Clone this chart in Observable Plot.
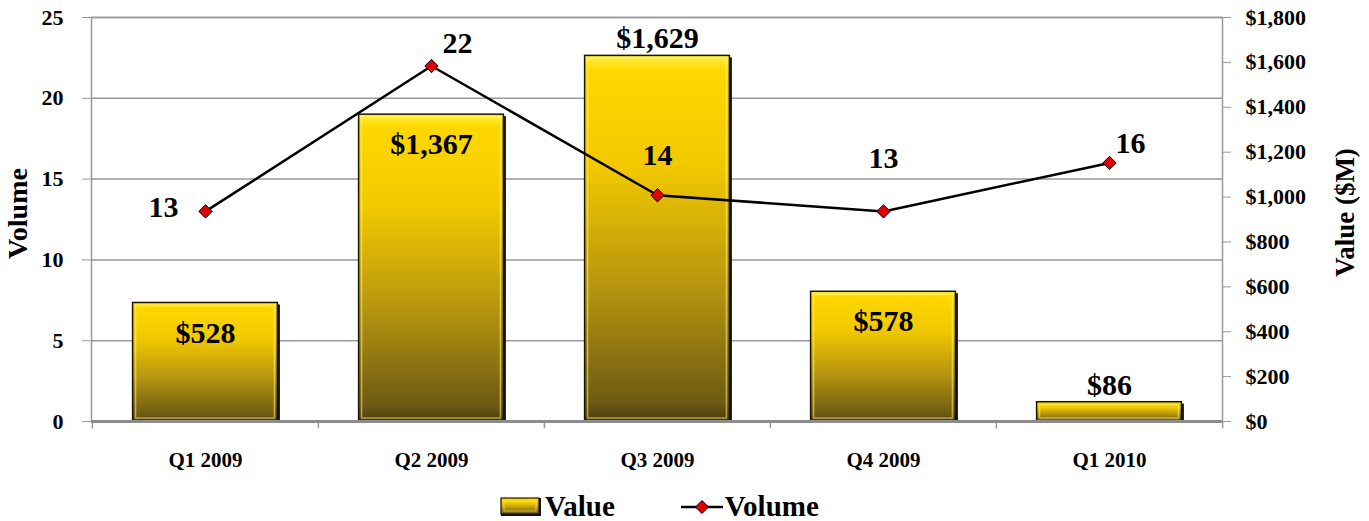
<!DOCTYPE html>
<html>
<head>
<meta charset="utf-8">
<script src="https://cdn.jsdelivr.net/npm/d3@7"></script>
<script src="https://cdn.jsdelivr.net/npm/@observablehq/plot@0.6"></script>
<style>
  html, body { margin: 0; padding: 0; background: #fff; }
  body { width: 1369px; height: 521px; overflow: hidden; font-family: "Liberation Serif", serif; font-weight: bold; }
  #legend { display: flex; align-items: center; height: 29px; padding-left: 500px; font-size: 29px; color: #000; }
  #legend .item { display: flex; align-items: center; }
  #legend svg { display: block; }
</style>
</head>
<body>
<div id="chart"></div>
<div id="legend"></div>
<script>
// ---- data ----
const quarters = ["Q1 2009", "Q2 2009", "Q3 2009", "Q4 2009", "Q1 2010"];
const values = [528, 1367, 1629, 578, 86];          // Value ($M), right axis
const volumes = [13, 22, 14, 13, 16];               // Volume, left axis
const volumeTicks = [0, 5, 10, 15, 20, 25];
const valueTicks = [0, 200, 400, 600, 800, 1000, 1200, 1400, 1600, 1800];

// ---- layout config (not data) ----
const valueLabelInside = [true, true, false, true, false];
const volLabelDx = [-42, 26, 0, 0, 21];
const volLabelDy = [-4, -23, -40, -53, -20];

const W = 1369, H = 492, mL = 91, mR = 147, mT = 17, mB = 71;
const volMax = 25, valMax = 1800;
const toVol = v => v * volMax / valMax;
const bw = (W - mL - mR) / quarters.length;
const barInset = (bw - 145) / 2;

const rows = quarters.map((q, i) => ({
  q, value: values[i], vv: toVol(values[i]), volume: volumes[i],
  inside: valueLabelInside[i], dx: volLabelDx[i], dy: volLabelDy[i]
}));
const fmt = d3.format(",");

const plot = Plot.plot({
  width: W, height: H,
  marginLeft: mL, marginRight: mR, marginTop: mT, marginBottom: mB,
  style: { fontFamily: "Liberation Serif, serif", fontWeight: "bold", color: "#000", background: "#fff" },
  x: { type: "band", domain: quarters, padding: 0 },
  y: { domain: [0, volMax] },
  marks: [
    Plot.gridY(volumeTicks.filter(d => d > 0), { stroke: "#999", strokeOpacity: 1, strokeWidth: 1.5 }),
    Plot.frame({ stroke: "#999", strokeWidth: 1.5 }),
    // category boundary ticks under the x axis
    Plot.ruleX(rows, { x: "q", dx: -bw / 2, y1: 0, y2: -0.45, stroke: "#999", strokeWidth: 1.5 }),
    Plot.ruleX(rows.slice(-1), { x: "q", dx: bw / 2, y1: 0, y2: -0.45, stroke: "#999", strokeWidth: 1.5 }),
    // bar shadow
    Plot.barY(rows, { x: "q", y: "vv", insetLeft: barInset, insetRight: barInset, dx: 2.5, dy: 2, fill: "#111" }),
    // bars
    Plot.barY(rows, { x: "q", y: "vv", insetLeft: barInset, insetRight: barInset, fill: "url(#barGrad)", stroke: "#1a1500", strokeWidth: 1.5 }),
    // bevel highlight
    Plot.barY(rows, { x: "q", y: "vv", insetLeft: barInset + 3, insetRight: barInset + 3, insetTop: 3, insetBottom: 3, fill: "none", stroke: "#fff27a", strokeOpacity: 0.55, strokeWidth: 1.5 }),
    Plot.ruleY([0], { stroke: "#8c8c8c", strokeWidth: 3 }),
    // axes
    Plot.axisY(volumeTicks, { anchor: "left", tickSize: 9, tickPadding: 19, stroke: "#999", fill: "#000", fontSize: 22, fontWeight: "bold", label: null }),
    Plot.axisY(valueTicks.map(toVol), { anchor: "right", tickSize: 8, tickPadding: 15, stroke: "#999", fill: "#000", fontSize: 22, fontWeight: "bold", label: null,
      tickFormat: d => "$" + fmt(Math.round(d * valMax / volMax)) }),
    Plot.axisX({ tickSize: 0, tickPadding: 31, fill: "#000", fontSize: 21, fontWeight: "bold", label: null }),
    Plot.text(["Volume"], { frameAnchor: "left", textAnchor: "middle", rotate: -90, dx: -73, dy: -6, fontSize: 28, fontWeight: "bold", fill: "#000" }),
    Plot.text(["Value ($M)"], { frameAnchor: "right", textAnchor: "middle", rotate: -90, dx: 123, dy: -7, fontSize: 27, fontWeight: "bold", fill: "#000" }),
    // value labels
    Plot.text(rows.filter(d => d.inside), { x: "q", y: "vv", text: d => "$" + fmt(d.value), dy: 30, fontSize: 30, fontWeight: "bold", fill: "#000" }),
    Plot.text(rows.filter(d => !d.inside), { x: "q", y: "vv", text: d => "$" + fmt(d.value), dy: -17, fontSize: 30, fontWeight: "bold", fill: "#000" }),
    // volume line
    Plot.line(rows, { x: "q", y: "volume", stroke: "#000", strokeWidth: 2.5 }),
    Plot.dot(rows, { x: "q", y: "volume", symbol: "diamond2", r: 6, fill: "#e00000", stroke: "#000", strokeWidth: 1 }),
    ...rows.map(r => Plot.text([r], { x: "q", y: "volume", text: d => String(d.volume), dx: r.dx, dy: r.dy, fontSize: 30, fontWeight: "bold", fill: "#000" }))
  ]
});

const gradDefs = `
  <linearGradient id="barGrad" x1="0" y1="0" x2="0" y2="1">
    <stop offset="0" stop-color="#fff04a"/>
    <stop offset="0.04" stop-color="#ffd800"/>
    <stop offset="0.3" stop-color="#f2c900"/>
    <stop offset="0.65" stop-color="#b39210"/>
    <stop offset="0.95" stop-color="#6e5a12"/>
    <stop offset="1" stop-color="#4a3c0c"/>
  </linearGradient>`;
const defs = document.createElementNS("http://www.w3.org/2000/svg", "defs");
defs.innerHTML = gradDefs;
plot.insertBefore(defs, plot.firstChild);
document.getElementById("chart").appendChild(plot);

// legend
const legend = document.getElementById("legend");
legend.innerHTML = `
  <div class="item">
    <svg width="42" height="20"><defs>${gradDefs.replace('id="barGrad"', 'id="barGradL"')}</defs>
      <rect x="1" y="1" width="40" height="18" fill="#111"/>
      <rect x="1" y="1" width="38" height="16" fill="url(#barGradL)" stroke="#1a1500" stroke-width="1.2"/>
      <rect x="4" y="4" width="32" height="10" fill="none" stroke="#fff27a" stroke-opacity="0.55"/>
    </svg>
    <span style="margin-left:3px">Value</span>
  </div>
  <div class="item" style="margin-left:66px">
    <svg width="42" height="20">
      <line x1="0" y1="10" x2="42" y2="10" stroke="#000" stroke-width="2.5"/>
      <path d="M21,3.5L27.5,10L21,16.5L14.5,10Z" fill="#e00000" stroke="#000" stroke-width="1"/>
    </svg>
    <span style="margin-left:2px">Volume</span>
  </div>`;
</script>
</body>
</html>
